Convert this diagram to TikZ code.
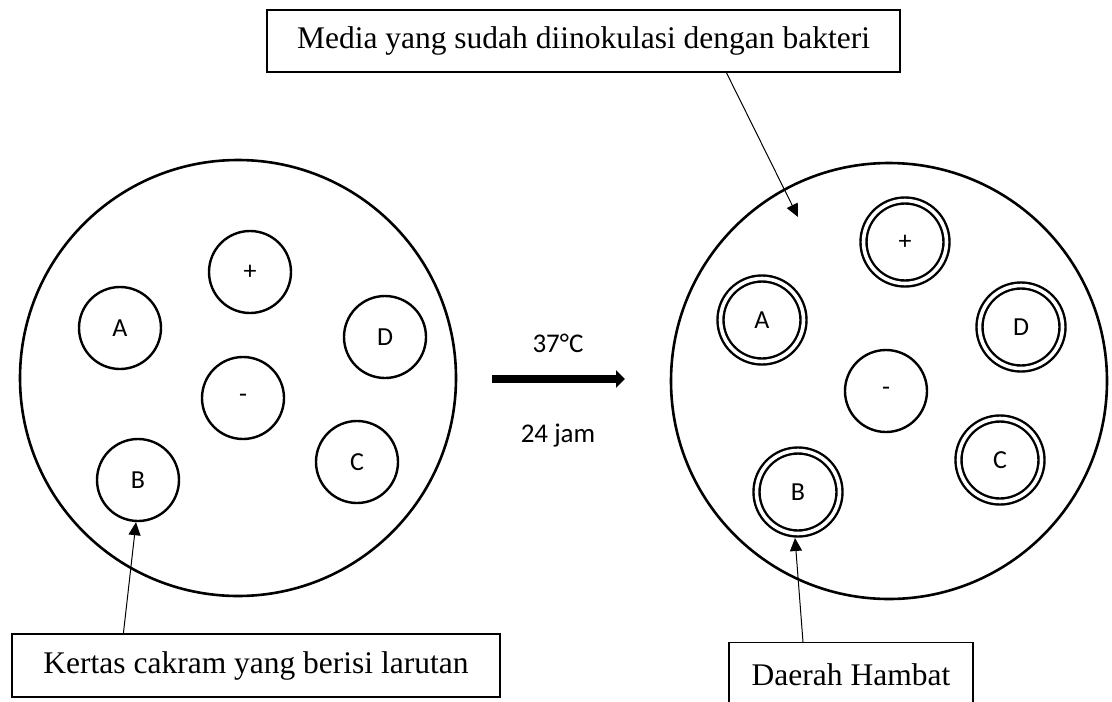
\documentclass[tikz,border=0pt]{standalone}
\usepackage{fontspec}
\setmainfont{Liberation Serif}
\newfontfamily\calibri{Carlito}
\usetikzlibrary{arrows.meta, positioning}

\begin{document}
\begin{tikzpicture}[x=1pt, y=-1pt,
  plate/.style={circle, draw, line width=2.6pt, minimum size=436pt, inner sep=0pt},
  disc/.style={circle, draw, line width=2.4pt, minimum size=82pt, inner sep=0pt, font=\calibri\fontsize{26}{30}\selectfont},
  zone/.style={circle, draw, double, line width=2.4pt, double distance=3.6pt, minimum size=83pt, inner sep=0pt, outer sep=4.5pt, font=\calibri\fontsize{26}{30}\selectfont},
  note/.style={rectangle, draw, line width=1.2pt, inner sep=0pt, font=\fontsize{31.5}{36}\selectfont},
  tag/.style={font=\calibri\fontsize{27}{32}\selectfont},
  pointer/.style={-{Triangle[length=13pt, width=12pt]}, line width=1pt},
  heat/.style={-{Triangle[length=9pt, width=17pt]}, line width=8pt}
]
\useasboundingbox (0,0) rectangle (1112,702);

% before incubation
\node[plate] (lplate) at (238,378) {};
\node[disc] (lplus) at (250,272) {+};
\node[disc] (lA) at (120,328) {A};
\node[disc] (lD) at (385,337) {D};
\node[disc] (lminus) at (243,398) {-};
\node[disc] (lB) at (138,480) {B};
\node[disc] (lC) at (357,462) {C};

% after incubation
\node[plate] (rplate) at (889,381) {};
\node[zone] (rplus) at (905,242) {+};
\node[zone] (rA) at (762,320) {A};
\node[zone] (rD) at (1021,327) {D};
\node[disc] (rminus) at (886,391) {-};
\node[zone] (rB) at (798,492) {B};
\node[zone] (rC) at (1000,460) {C};

% incubation
\coordinate (hs) at (492,379);
\coordinate (he) at (625,379);
\draw[heat] (hs) -- (he);
\node[tag] (temp) at (558,343) {37°C};
\node[tag] (time) at (558,436) {24 jam};

% labels
\node[note, minimum width=633pt, minimum height=62pt] (media) at (583.5,41) {Media yang sudah diinokulasi dengan bakteri};
\node[note, minimum width=488pt, minimum height=63pt] (kertas) at (256,665.5) {Kertas cakram yang berisi larutan};
\node[note, minimum width=244pt, minimum height=64pt, anchor=north] (daerah) at (851,642) {Daerah Hambat};
\coordinate (agar) at (798,217);
\draw[pointer] ([xshift=460pt]media.south west) -- (agar);
\draw[pointer] ([xshift=112pt]kertas.north west) -- ([xshift=-2pt]lB.south);
\draw[pointer] ([xshift=-48pt]daerah.north) -- ([xshift=-3pt]rB.south);
\end{tikzpicture}
\end{document}
